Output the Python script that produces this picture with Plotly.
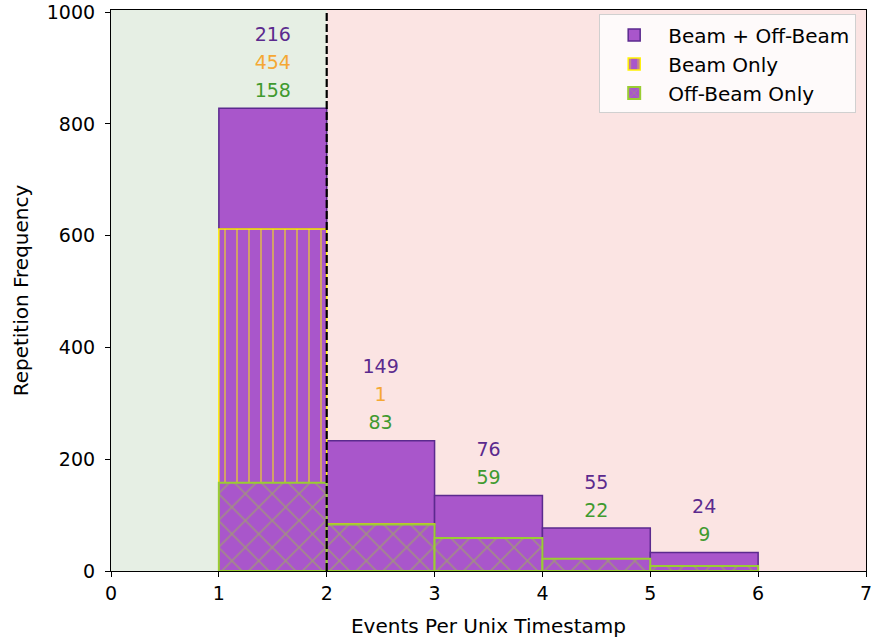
import plotly.graph_objects as go

# ---- data ----
bin_edges = [1, 2, 3, 4, 5, 6]
off_beam_only = [158, 83, 59, 22, 9]
beam_only = [454, 1, 0, 0, 0]
beam_plus_off = [216, 149, 76, 55, 24]
series_names = ["Beam + Off-Beam", "Beam Only", "Off-Beam Only"]
region_edges = [0, 2, 7]          # green region [0,2], red region [2,7]
x_ticks = [0, 1, 2, 3, 4, 5, 6, 7]
y_ticks = [0, 200, 400, 600, 800, 1000]

# ---- styles ----
PURPLE = "#a956cb"
PURPLE_EDGE = "#5b2a8e"
YELLOW = "#fff200"
YGREEN = "#9acd32"
TXT_PURPLE = "#5b2a8e"
TXT_ORANGE = "#f5a833"
TXT_GREEN = "#3f9a2f"
FONT = "DejaVu Sans"

centers = [(a + b) / 2 for a, b in zip(bin_edges[:-1], bin_edges[1:])]
widths = [b - a for a, b in zip(bin_edges[:-1], bin_edges[1:])]
base_beam = list(off_beam_only)
base_comb = [o + b for o, b in zip(off_beam_only, beam_only)]
totals = [c + v for c, v in zip(base_comb, beam_plus_off)]

fig = go.Figure()

# combined (top)
fig.add_trace(go.Bar(
    x=centers, y=beam_plus_off, base=base_comb, width=widths,
    name=series_names[0], legendrank=1,
    marker=dict(color=PURPLE, line=dict(color=PURPLE_EDGE, width=1.5)),
))
# beam only (middle)
fig.add_trace(go.Bar(
    x=centers, y=beam_only, base=base_beam, width=widths,
    name=series_names[1], legendrank=2,
    marker=dict(color=PURPLE, line=dict(color=YELLOW, width=1.5),
                pattern=dict(shape="|", fgcolor=YELLOW, size=12, solidity=0.16)),
))
# off-beam only (bottom)
fig.add_trace(go.Bar(
    x=centers, y=off_beam_only, base=[0] * len(centers), width=widths,
    name=series_names[2], legendrank=3,
    marker=dict(color=PURPLE, line=dict(color=YGREEN, width=2),
                pattern=dict(shape="x", fgcolor=YGREEN, size=19, solidity=0.15)),
))

# count labels above bars
lab = {TXT_GREEN: ([], [], []), TXT_ORANGE: ([], [], []), TXT_PURPLE: ([], [], [])}
for i, c in enumerate(centers):
    lines = [(off_beam_only[i], TXT_GREEN)]
    if beam_only[i] > 0:
        lines.append((beam_only[i], TXT_ORANGE))
    lines.append((beam_plus_off[i], TXT_PURPLE))
    for k, (val, col) in enumerate(lines):
        lab[col][0].append(c)
        lab[col][1].append(totals[i] + 29 + 50 * k)
        lab[col][2].append(str(val))
for col, (xs, ys, ts) in lab.items():
    fig.add_trace(go.Scatter(
        x=xs, y=ys, text=ts, mode="text", showlegend=False, hoverinfo="skip",
        textfont=dict(color=col, size=19, family=FONT), textposition="middle center",
    ))

fig.update_layout(
    barmode="overlay",
    width=873, height=639,
    margin=dict(l=111, r=7, t=10, b=68, autoexpand=False),
    plot_bgcolor="white", paper_bgcolor="white",
    font=dict(family=FONT, size=19, color="black"),
    shapes=[
        dict(type="rect", xref="x", yref="paper", x0=region_edges[0], x1=region_edges[1],
             y0=0, y1=1, fillcolor="#e6efe4", line=dict(width=0), layer="below"),
        dict(type="rect", xref="x", yref="paper", x0=region_edges[1], x1=region_edges[2],
             y0=0, y1=1, fillcolor="#fbe4e3", line=dict(width=0), layer="below"),
        dict(type="line", xref="x", yref="paper", x0=region_edges[1], x1=region_edges[1],
             y0=0, y1=1, line=dict(color="black", width=2.2, dash="8px,3px"), layer="above"),
    ],
    legend=dict(x=0.987, y=0.992, xanchor="right", yanchor="top", itemwidth=58,
                tracegroupgap=0,
                bgcolor="rgba(255,255,255,0.8)", bordercolor="#d0d0d0", borderwidth=1,
                font=dict(size=20, family=FONT)),
    showlegend=True,
)
fig.update_xaxes(range=[region_edges[0], region_edges[-1]], tickvals=x_ticks,
                 automargin=False,
                 showgrid=False, zeroline=False, showline=True, mirror=True,
                 linecolor="black", linewidth=1.2, ticks="outside", ticklen=5,
                 tickwidth=1.2, tickcolor="black",
                 title=dict(text="Events Per Unix Timestamp", font=dict(size=20), standoff=16))
fig.update_yaxes(range=[0, 1004], tickvals=y_ticks,
                 automargin=False, ticklabelstandoff=6,
                 showgrid=False, zeroline=False, showline=True, mirror=True,
                 linecolor="black", linewidth=1.2, ticks="outside", ticklen=5,
                 tickwidth=1.2, tickcolor="black",
                 title=dict(text="Repetition Frequency", font=dict(size=20), standoff=12))

fig.write_html("out.html", config={"displayModeBar": False},
               post_script="document.body.style.margin='0';")
